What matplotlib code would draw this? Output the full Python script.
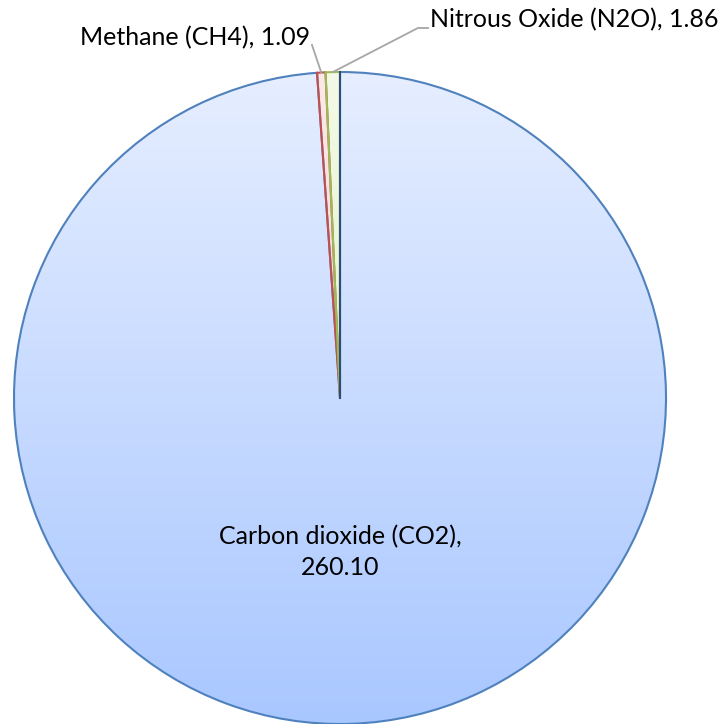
import numpy as np
import matplotlib.pyplot as plt
import matplotlib.colors as mcolors

# Data
gases = ["Carbon dioxide (CO2)", "Methane (CH4)", "Nitrous Oxide (N2O)"]
values = [260.10, 1.09, 1.86]

# Styles (gradient top, gradient bottom, edge)
grad_top = ["#e6eeff", "#fde8e8", "#f3f9e6"]
grad_bottom = ["#a9c7ff", "#f5c8c8", "#dcefb8"]
edges = ["#4f81bd", "#c0504d", "#9bbb59"]

plt.rcParams["font.family"] = ["Lato", "DejaVu Sans"]

fig = plt.figure(figsize=(7.21, 7.24), dpi=100)
ax = fig.add_axes([0, 0, 1, 1])

wedges, _ = ax.pie(values, startangle=90, counterclock=False, radius=1,
                   wedgeprops=dict(linewidth=1.5))

for w, c0, c1, ec in zip(wedges, grad_top, grad_bottom, edges):
    w.set_facecolor("none")
    w.set_edgecolor(ec)
    w.set_zorder(3)
    cmap = mcolors.LinearSegmentedColormap.from_list("g", [c1, c0])
    grad = np.linspace(0, 1, 256).reshape(-1, 1)
    im = ax.imshow(grad, cmap=cmap, extent=[-1, 1, -1, 1], origin="lower",
                   aspect="auto", zorder=2)
    im.set_clip_path(w)

# dark start edge of the first slice at 12 o'clock
t0 = np.deg2rad(wedges[0].theta2)
ax.plot([0, np.cos(t0)], [0, np.sin(t0)], color="#2c4d75", lw=1.5, zorder=5)

ax.set_xlim(-340 / 326, 381 / 326)
ax.set_ylim(-326 / 326, 398 / 326)
ax.set_aspect("equal")
ax.axis("off")

# label points at the wedge mid angle
def mid_point(w):
    t = np.deg2rad((w.theta1 + w.theta2) / 2)
    return np.cos(t), np.sin(t)

lc = "#a6a6a6"
# Methane
mx, my = mid_point(wedges[1])
ax.plot([mx, -0.086], [my, 1.083], color=lc, lw=1.3, zorder=4)
ax.text(-0.092, 1.104, f"{gases[1]}, {values[1]:.2f}", ha="right", va="center",
        fontsize=18, color="black")
# Nitrous oxide
nx, ny = mid_point(wedges[2])
ax.plot([nx, 0.239, 0.27], [ny, 1.135, 1.135], color=lc, lw=1.3, zorder=4)
ax.text(0.276, 1.160, f"{gases[2]}, {values[2]:.2f}", ha="left", va="center",
        fontsize=18, color="black")
# Carbon dioxide
ax.text(0.0, -0.472, f"{gases[0]},\n{values[0]:.2f}", ha="center", va="center",
        fontsize=18, color="black", linespacing=1.4)

fig.savefig("out.png", dpi=100)
